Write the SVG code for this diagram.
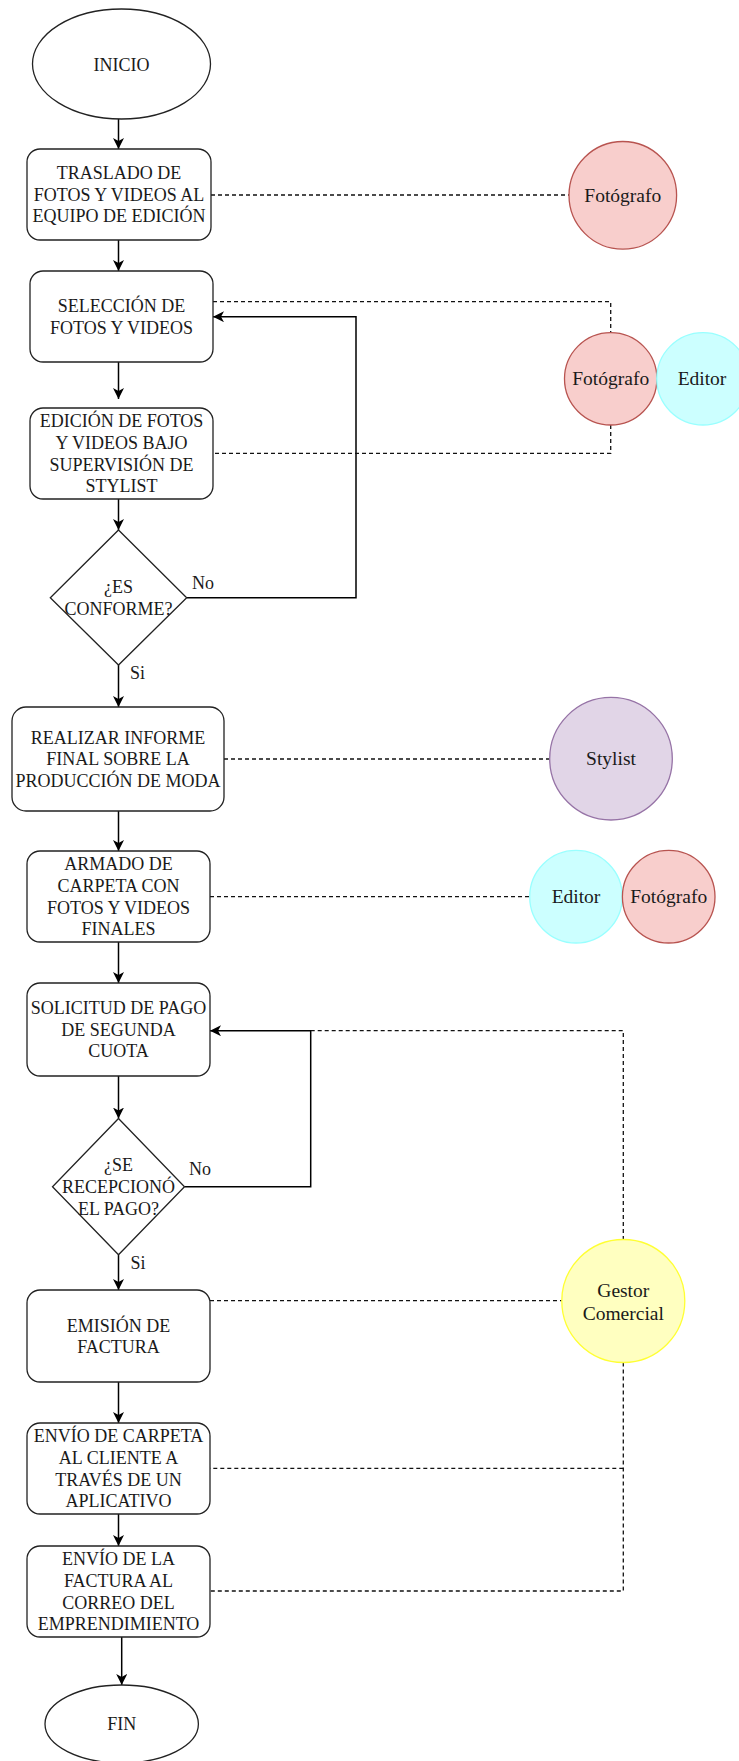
<svg xmlns="http://www.w3.org/2000/svg" width="739" height="1761" viewBox="0 0 739 1761">
  <style>
    .node { fill: #ffffff; stroke: #222222; stroke-width: 1.3; }
    .lbl { font-family: "Liberation Serif", "Times New Roman", serif; font-size: 18px; fill: #1a1a1a; text-anchor: middle; }
    .role { font-family: "Liberation Serif", "Times New Roman", serif; font-size: 19.5px; fill: #1a1a1a; text-anchor: middle; }
    .edge-lbl { font-family: "Liberation Serif", "Times New Roman", serif; font-size: 18px; fill: #1a1a1a; }
    .flow { fill: none; stroke: #000000; stroke-width: 1.5; marker-end: url(#arrow); }
    .link { fill: none; stroke: #111111; stroke-width: 1.3; stroke-dasharray: 4 3; }
    .fotografo { fill: #f8cecc; stroke: #b85450; stroke-width: 1.3; }
    .editor { fill: #ccffff; stroke: #99ffff; stroke-width: 1.3; }
    .stylist { fill: #e1d5e7; stroke: #9673a6; stroke-width: 1.3; }
    .gestor { fill: #ffffc0; stroke: #ffff33; stroke-width: 1.3; }
  </style>
  <defs>
    <marker id="arrow" markerUnits="userSpaceOnUse" markerWidth="12" markerHeight="11" refX="11" refY="5.5" orient="auto">
      <path d="M0,0 L11,5.5 L0,11 L3,5.5 Z" fill="#000000"/>
    </marker>
  </defs>
  <rect width="739" height="1761" fill="#ffffff"/>

  <!-- connectors -->
  <g id="connectors">
    <path class="flow" d="M118.5,119 V149"/>
    <path class="flow" d="M118.5,240 V271"/>
    <path class="flow" d="M118.5,362 V399"/>
    <path class="flow" d="M118.5,499 V530"/>
    <path class="flow" d="M186.7,597.7 H356 V316.7 H213"/>
    <path class="flow" d="M118.5,665 V707"/>
    <path class="flow" d="M118.5,811 V851"/>
    <path class="flow" d="M118.5,942 V983"/>
    <path class="flow" d="M118.5,1076 V1118.5"/>
    <path class="flow" d="M184.5,1186.7 H310.7 V1030.7 H210"/>
    <path class="flow" d="M118.5,1254.7 V1290"/>
    <path class="flow" d="M118.5,1382 V1423"/>
    <path class="flow" d="M118.5,1514 V1546"/>
    <path class="flow" d="M121.7,1637 V1685"/>

    <path class="link" d="M211,195 H569"/>
    <path class="link" d="M213,301.7 H610.7 V332.6"/>
    <path class="link" d="M610.7,425 V453.3 H213"/>
    <path class="link" d="M224,759 H549.7"/>
    <path class="link" d="M210,896.7 H529.7"/>
    <path class="link" d="M310.7,1030.7 H623.3 V1239.5"/>
    <path class="link" d="M210,1300.7 H561.8"/>
    <path class="link" d="M623.3,1362.5 V1591 H210"/>
    <path class="link" d="M623.3,1468.3 H210"/>

    <text class="edge-lbl" x="192" y="588.5">No</text>
    <text class="edge-lbl" x="130" y="678.5">Si</text>
    <text class="edge-lbl" x="189" y="1175">No</text>
    <text class="edge-lbl" x="130.5" y="1268.5">Si</text>
  </g>

  <!-- process flow -->
  <g id="inicio">
    <ellipse class="node" cx="121.5" cy="64" rx="89" ry="55"/>
    <text class="lbl" x="121.5" y="71">INICIO</text>
  </g>
  <g id="traslado">
    <rect class="node" x="27" y="149" width="184" height="91" rx="13"/>
    <text class="lbl" x="119" y="179.2">TRASLADO DE<tspan x="119" dy="21.6">FOTOS Y VIDEOS AL</tspan><tspan x="119" dy="21.6">EQUIPO DE EDICIÓN</tspan></text>
  </g>
  <g id="seleccion">
    <rect class="node" x="30" y="271" width="183" height="91" rx="13"/>
    <text class="lbl" x="121.5" y="312">SELECCIÓN DE<tspan x="121.5" dy="21.6">FOTOS Y VIDEOS</tspan></text>
  </g>
  <g id="edicion">
    <rect class="node" x="30" y="408" width="183" height="91" rx="13"/>
    <text class="lbl" x="121.5" y="427.4">EDICIÓN DE FOTOS<tspan x="121.5" dy="21.6">Y VIDEOS BAJO</tspan><tspan x="121.5" dy="21.6">SUPERVISIÓN DE</tspan><tspan x="121.5" dy="21.6">STYLIST</tspan></text>
  </g>
  <g id="conforme">
    <polygon class="node" points="118.5,530 186.7,597.7 118.5,665 50.3,597.7"/>
    <text class="lbl" x="118.5" y="593.2">¿ES<tspan x="118.5" dy="21.6">CONFORME?</tspan></text>
  </g>
  <g id="informe">
    <rect class="node" x="12" y="707" width="212" height="104" rx="14"/>
    <text class="lbl" x="118" y="743.7">REALIZAR INFORME<tspan x="118" dy="21.6">FINAL SOBRE LA</tspan><tspan x="118" dy="21.6">PRODUCCIÓN DE MODA</tspan></text>
  </g>
  <g id="armado">
    <rect class="node" x="27" y="851" width="183" height="91" rx="13"/>
    <text class="lbl" x="118.5" y="870.4">ARMADO DE<tspan x="118.5" dy="21.6">CARPETA CON</tspan><tspan x="118.5" dy="21.6">FOTOS Y VIDEOS</tspan><tspan x="118.5" dy="21.6">FINALES</tspan></text>
  </g>
  <g id="solicitud">
    <rect class="node" x="27" y="983" width="183" height="93" rx="13"/>
    <text class="lbl" x="118.5" y="1014.2">SOLICITUD DE PAGO<tspan x="118.5" dy="21.6">DE SEGUNDA</tspan><tspan x="118.5" dy="21.6">CUOTA</tspan></text>
  </g>
  <g id="pago">
    <polygon class="node" points="118.5,1118.5 184.5,1186.7 118.5,1254.7 52.5,1186.7"/>
    <text class="lbl" x="118.5" y="1171.4">¿SE<tspan x="118.5" dy="21.6">RECEPCIONÓ</tspan><tspan x="118.5" dy="21.6">EL PAGO?</tspan></text>
  </g>
  <g id="factura">
    <rect class="node" x="27" y="1290" width="183" height="92" rx="13"/>
    <text class="lbl" x="118.5" y="1331.5">EMISIÓN DE<tspan x="118.5" dy="21.6">FACTURA</tspan></text>
  </g>
  <g id="envio-carpeta">
    <rect class="node" x="27" y="1423" width="183" height="91" rx="13"/>
    <text class="lbl" x="118.5" y="1442.4">ENVÍO DE CARPETA<tspan x="118.5" dy="21.6">AL CLIENTE A</tspan><tspan x="118.5" dy="21.6">TRAVÉS DE UN</tspan><tspan x="118.5" dy="21.6">APLICATIVO</tspan></text>
  </g>
  <g id="envio-factura">
    <rect class="node" x="27" y="1546" width="183" height="91" rx="13"/>
    <text class="lbl" x="118.5" y="1565.4">ENVÍO DE LA<tspan x="118.5" dy="21.6">FACTURA AL</tspan><tspan x="118.5" dy="21.6">CORREO DEL</tspan><tspan x="118.5" dy="21.6">EMPRENDIMIENTO</tspan></text>
  </g>
  <g id="fin">
    <ellipse class="node" cx="121.7" cy="1724" rx="76.7" ry="39"/>
    <text class="lbl" x="121.7" y="1730.3">FIN</text>
  </g>

  <!-- roles -->
  <g id="fotografo-1">
    <circle class="fotografo" cx="622.8" cy="195.3" r="53.8"/>
    <text class="role" x="622.8" y="201.5">Fotógrafo</text>
  </g>
  <g id="fotografo-2">
    <circle class="fotografo" cx="610.7" cy="378.8" r="46.2"/>
    <text class="role" x="610.7" y="385">Fotógrafo</text>
  </g>
  <g id="editor-1">
    <circle class="editor" cx="703" cy="378.8" r="46.2"/>
    <text class="role" x="702" y="385">Editor</text>
  </g>
  <g id="stylist">
    <circle class="stylist" cx="611" cy="758.7" r="61.3"/>
    <text class="role" x="611" y="765">Stylist</text>
  </g>
  <g id="editor-2">
    <circle class="editor" cx="576" cy="896.7" r="46.3"/>
    <text class="role" x="576" y="902.8">Editor</text>
  </g>
  <g id="fotografo-3">
    <circle class="fotografo" cx="668.7" cy="896.7" r="46.3"/>
    <text class="role" x="668.7" y="902.8">Fotógrafo</text>
  </g>
  <g id="gestor">
    <circle class="gestor" cx="623.3" cy="1301" r="61.5"/>
    <text class="role" x="623.3" y="1296.5">Gestor<tspan x="623.3" dy="23">Comercial</tspan></text>
  </g>
</svg>
